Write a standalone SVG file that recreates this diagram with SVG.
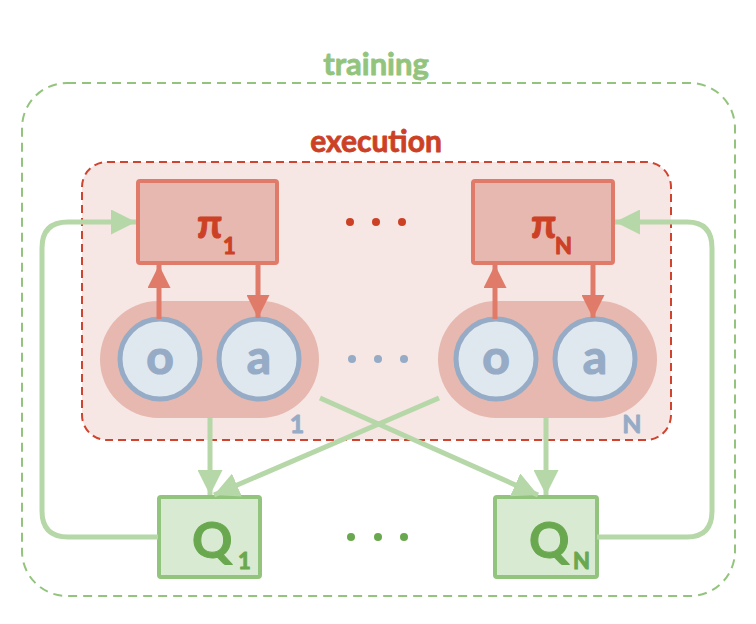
<svg xmlns="http://www.w3.org/2000/svg" width="756" height="624" viewBox="0 0 756 624">
<defs>
<style>
.t{font-family:Lato,"Open Sans","Liberation Sans",sans-serif;font-weight:bold;paint-order:stroke;stroke-linejoin:round}
.pi{fill:#e6b8af;stroke:#e07b6a;stroke-width:4}
.pit{fill:#cc4125;stroke:#cc4125;stroke-width:1}
.pill{fill:#e6b8af}
.cir{fill:#dfe7ef;stroke:#95abc6;stroke-width:5}
.ct{fill:#95abc6;stroke:#95abc6;stroke-width:1.2;font-size:48px}
.q{fill:#d9ead3;stroke:#93c47d;stroke-width:4}
.qt{fill:#6aa84f;stroke:#6aa84f;stroke-width:1}
.red{stroke:#e07b6a;stroke-width:5;fill:none}
.grn{stroke:#b6d7a8;stroke-width:5;fill:none}
</style>
<marker id="ra" viewBox="0 0 10 10" refX="10" refY="5" markerWidth="4.6" markerHeight="4.6" markerUnits="strokeWidth" orient="auto"><path d="M0,0L10,5L0,10z" fill="#e07b6a"/></marker>
<marker id="ga" viewBox="0 0 10 10" refX="10" refY="5" markerWidth="5" markerHeight="5" markerUnits="strokeWidth" orient="auto"><path d="M0,0L10,5L0,10z" fill="#b6d7a8"/></marker>
</defs>
<rect width="756" height="624" fill="#fff"/>
<g id="training">
<rect x="22" y="83" width="713" height="513" rx="45" fill="none" stroke="#93c47d" stroke-width="2" stroke-dasharray="9,6"/>
<text class="t" x="376" y="75" text-anchor="middle" font-size="31" fill="#93c47d" stroke="#93c47d" stroke-width="0.8">training</text>
</g>
<g id="execution">
<rect x="82" y="162" width="589" height="278" rx="25" fill="#f6e6e4" stroke="#d0432e" stroke-width="2" stroke-dasharray="8,5"/>
<text class="t" x="376" y="152" text-anchor="middle" font-size="30" fill="#cc4125" stroke="#cc4125" stroke-width="0.8">execution</text>
</g>
<g id="pill1">
<rect class="pill" x="100" y="301" width="219" height="117" rx="58.5"/>
<text class="t" x="297" y="433" text-anchor="middle" font-size="25" fill="#95abc6" stroke="#95abc6" stroke-width="0.8">1</text>
</g>
<g id="pillN">
<rect class="pill" x="438" y="301" width="219" height="117" rx="58.5"/>
<text class="t" x="632" y="433" text-anchor="middle" font-size="25" fill="#95abc6" stroke="#95abc6" stroke-width="0.8">N</text>
</g>
<g id="o1"><circle class="cir" cx="160" cy="359" r="40"/><text class="t ct" x="160" y="374" text-anchor="middle">o</text></g>
<g id="a1"><circle class="cir" cx="259" cy="359" r="40"/><text class="t ct" x="259" y="374" text-anchor="middle">a</text></g>
<g id="oN"><circle class="cir" cx="496" cy="359" r="40"/><text class="t ct" x="496" y="374" text-anchor="middle">o</text></g>
<g id="aN"><circle class="cir" cx="595" cy="359" r="40"/><text class="t ct" x="595" y="374" text-anchor="middle">a</text></g>
<g id="dots-blue" fill="#95abc6"><circle cx="352" cy="359" r="4"/><circle cx="378" cy="359" r="4"/><circle cx="404" cy="359" r="4"/></g>
<g id="pi1"><rect class="pi" x="138" y="181" width="139" height="82" rx="2"/><text class="t pit" x="197" y="238" font-size="40">π</text><text class="t pit" x="223" y="254" font-size="22">1</text></g>
<g id="piN"><rect class="pi" x="473" y="181" width="140" height="82" rx="2"/><text class="t pit" x="531" y="238" font-size="40">π</text><text class="t pit" x="555" y="254" font-size="22">N</text></g>
<g id="dots-red" fill="#cc4125"><circle cx="350" cy="222" r="4"/><circle cx="376" cy="222" r="4"/><circle cx="402" cy="222" r="4"/></g>
<g id="Q1"><rect class="q" x="159" y="497" width="101" height="80" rx="2"/><text class="t qt" x="192" y="558" font-size="50">Q</text><text class="t qt" x="238" y="569" font-size="22">1</text></g>
<g id="QN"><rect class="q" x="495" y="497" width="102" height="80" rx="2"/><text class="t qt" x="529" y="558" font-size="50">Q</text><text class="t qt" x="573" y="569" font-size="22">N</text></g>
<g id="dots-green" fill="#6aa84f"><circle cx="351" cy="537" r="4"/><circle cx="378" cy="537" r="4"/><circle cx="404" cy="537" r="4"/></g>
<g id="connectors">
<path class="red" d="M159,319V265" marker-end="url(#ra)"/>
<path class="red" d="M258,265V318" marker-end="url(#ra)"/>
<path class="red" d="M495,319V265" marker-end="url(#ra)"/>
<path class="red" d="M593,265V318" marker-end="url(#ra)"/>
<path class="grn" d="M210,418V495" marker-end="url(#ga)"/>
<path class="grn" d="M546,418V495" marker-end="url(#ga)"/>
<path class="grn" d="M320,398L538,495" marker-end="url(#ga)"/>
<path class="grn" d="M439,398L214,495" marker-end="url(#ga)"/>
<path class="grn" d="M158,537H68Q42,537 42,511V248Q42,222 68,222H136" marker-end="url(#ga)"/>
<path class="grn" d="M597,537H687Q712,537 712,511V248Q712,222 687,222H615" marker-end="url(#ga)"/>
</g>
</svg>
